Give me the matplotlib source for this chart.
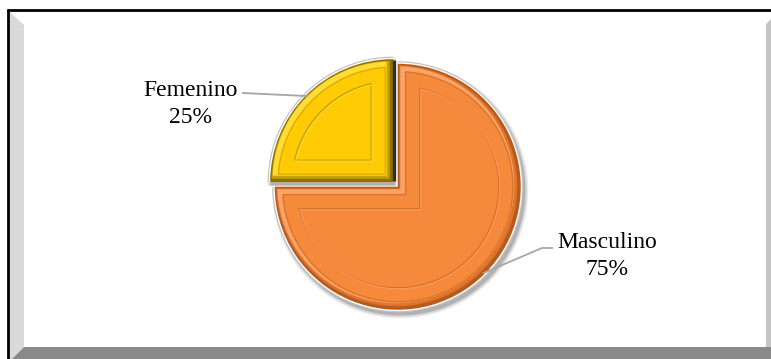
import numpy as np
import matplotlib
matplotlib.use("Agg")
import matplotlib.pyplot as plt
from matplotlib.patches import Polygon

# Gender distribution
categories = ["Femenino", "Masculino"]
shares = [25, 75]

W, H = 771, 359
fig = plt.figure(figsize=(W / 100, H / 100), dpi=100)
ax = fig.add_axes([0, 0, 1, 1])


def Y(py):
    """Convert a top-down pixel row into the axes' bottom-up coordinate."""
    return H - py


# ---- framed panel with bevelled sides ----
ax.add_patch(Polygon([(9, Y(11)), (24, Y(25)), (24, Y(347)), (12, Y(359)), (9, Y(359))],
                     closed=True, facecolor="#D9D9D9", edgecolor="none", zorder=0))
ax.add_patch(Polygon([(12, Y(359)), (24, Y(347)), (771, Y(347)), (771, Y(359))],
                     closed=True, facecolor="#898989", edgecolor="none", zorder=0))
ax.add_patch(Polygon([(766, Y(24)), (771, Y(19)), (771, Y(347)), (766, Y(347))],
                     closed=True, facecolor="#C4C4C4", edgecolor="none", zorder=0))
ax.plot([7, 771], [Y(9.5), Y(9.5)], color="black", lw=2, solid_capstyle="butt", zorder=1)
ax.plot([7.5, 7.5], [Y(9), Y(359)], color="black", lw=2, solid_capstyle="butt", zorder=1)

# ---- pie ----
cx, cy, R = 396, Y(185), 123
explode_px = [4.0, 2.5]
main_cols = ["#FFCB05", "#F68A3C"]
dark_cols = ["#8C7000", "#B85A1A"]
mid_cols = ["#C9A100", "#DC7430"]
light_cols = ["#FFDC3A", "#F9A468"]
line_cols = ["#D9A800", "#D8712A"]

wedges, _ = ax.pie(shares, explode=explode_px, startangle=90, counterclock=True,
                   colors=dark_cols, radius=R, center=(cx, cy), frame=True,
                   wedgeprops=dict(linewidth=0))


def inset(c, r, t1, t2, d, n=240):
    """Outline of a wedge shrunk inward by d on its arc and both radial edges."""
    a1, a2 = np.radians(t1), np.radians(t2)
    s = a2 - a1
    mid = 0.5 * (a1 + a2)
    rr = r - d
    corner = np.array(c) + (d / np.sin(s / 2)) * np.array([np.cos(mid), np.sin(mid)])
    lam = np.sqrt(max(rr ** 2 - d ** 2, 0.0))
    off = np.arctan2(d, lam)
    th = np.linspace(a1 + off, a2 - off, n)
    arc = np.column_stack([c[0] + rr * np.cos(th), c[1] + rr * np.sin(th)])
    return np.vstack([corner, arc])


# soft drop shadow and rim behind the slices
for w in wedges:
    c = np.array(w.center)
    for k, a in zip([5, 3.5, 2], [0.10, 0.15, 0.22]):
        ax.add_patch(Polygon(inset(c + (2.5, -3.5), w.r + k, w.theta1, w.theta2, 0),
                             closed=True, facecolor="#404040", alpha=a,
                             edgecolor="none", zorder=1))
for w in wedges:
    c = np.array(w.center)
    ax.add_patch(Polygon(inset(c, w.r + 2.5, w.theta1, w.theta2, 0), closed=True,
                         facecolor="#C2C2C2", edgecolor="none", zorder=2))
    ax.add_patch(Polygon(inset(c, w.r + 1.3, w.theta1, w.theta2, 0), closed=True,
                         facecolor="white", edgecolor="none", zorder=2))

for i, w in enumerate(wedges):
    w.set_zorder(3)
    c = np.array(w.center)
    t1, t2, r = w.theta1, w.theta2, w.r
    # bevel: light face up-left, dark face down-right, graded in steps
    ax.add_patch(Polygon(inset(c + (-1, 1), r, t1, t2, 2.5), closed=True,
                         facecolor=mid_cols[i], edgecolor="none", zorder=4))
    ax.add_patch(Polygon(inset(c + (-2, 2), r, t1, t2, 4.5), closed=True,
                         facecolor=light_cols[i], edgecolor="none", zorder=4))
    ax.add_patch(Polygon(inset(c, r, t1, t2, 7), closed=True,
                         facecolor=main_cols[i], edgecolor="none", zorder=5))
    ax.add_patch(Polygon(inset(c, r, t1, t2, 8), closed=True, facecolor="none",
                         edgecolor=line_cols[i], lw=0.8, zorder=6))
    # inner groove
    ax.add_patch(Polygon(inset(c, r, t1, t2, 22), closed=True, facecolor="none",
                         edgecolor=dark_cols[i], lw=0.9, alpha=0.55, zorder=6))
    ax.add_patch(Polygon(inset(c + (1, -1), r, t1, t2, 22), closed=True, facecolor="none",
                         edgecolor=light_cols[i], lw=0.9, alpha=0.7, zorder=6))

# dark side face on the raised slice's right edge
wf = wedges[0]
ax.plot([wf.center[0] + 1.0, wf.center[0] + 1.0],
        [wf.center[1] + 1, wf.center[1] + wf.r - 1], color="#2E2E2E", lw=2.4,
        solid_capstyle="butt", zorder=7)

# ---- labels with leader lines ----
font = dict(family="Liberation Serif", size=17, color="black")
label_x = [191, 607]
name_base = [96, 248]
pct_base = [123, 275]
for i, w in enumerate(wedges):
    ax.text(label_x[i], Y(name_base[i]), categories[i], ha="center", va="baseline",
            zorder=8, **font)
    ax.text(label_x[i], Y(pct_base[i]), f"{shares[i]}%", ha="center", va="baseline",
            zorder=8, **font)

mids = [np.radians(0.5 * (w.theta1 + w.theta2)) for w in wedges]
anchors = [np.array(w.center) + 0.99 * w.r * np.array([np.cos(m), np.sin(m)])
           for w, m in zip(wedges, mids)]
ax.plot([243, anchors[0][0]], [Y(93), anchors[0][1]], color="#A6A6A6", lw=1.3, zorder=8)
ax.plot([552, 542, anchors[1][0]], [Y(248), Y(248), anchors[1][1]], color="#A6A6A6",
        lw=1.3, zorder=8)

ax.set_xlim(0, W)
ax.set_ylim(0, H)
ax.set_aspect("auto")
ax.axis("off")

fig.savefig("out.png", dpi=100, facecolor="white")
